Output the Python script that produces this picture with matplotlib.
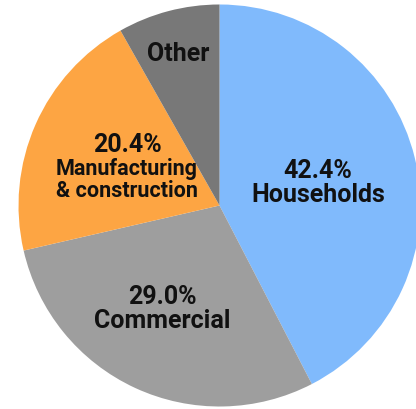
import matplotlib
matplotlib.use("Agg")
import matplotlib.pyplot as plt

# energy use by sector (%)
sectors = ["Households", "Commercial", "Manufacturing\n& construction", "Other"]
shares = [42.4, 29.0, 20.4, 8.2]
colors = ["#80BAFC", "#9E9E9E", "#FDA543", "#787878"]

plt.rcParams["font.family"] = ["Roboto", "DejaVu Sans"]

fig = plt.figure(figsize=(4.16, 4.10), dpi=100)
ax = fig.add_axes([0.0445, 0.0061, 0.9663, 0.9805])

wedges, _ = ax.pie(shares, colors=colors, startangle=90, counterclock=False,
                   radius=1.0, center=(0, 0), wedgeprops={"linewidth": 0})

ax.set_xlim(-1, 1)
ax.set_ylim(-1, 1)
ax.set_aspect("auto")
ax.axis("off")

# label spots inside each wedge (pie radius = 1)
label_pos = [(0.49, 0.115), (-0.286, -0.51), (-0.46, 0.19), (-0.206, 0.76)]

for i, (name, val) in enumerate(zip(sectors, shares)):
    x, y = label_pos[i]
    if name == "Other":
        ax.text(x, y, name, ha="center", va="center", fontsize=18,
                fontweight="bold", color="#111111")
    elif "\n" in name:
        ax.text(x, y + 0.115, f"{val:.1f}%", ha="center", va="center",
                fontsize=18, fontweight="bold", color="#111111")
        ax.text(x, y - 0.06, name, ha="center", va="center", fontsize=15.5,
                fontweight="bold", color="#111111", linespacing=1.0)
    else:
        ax.text(x, y, f"{val:.1f}%\n{name}", ha="center", va="center",
                fontsize=18, fontweight="bold", color="#111111",
                linespacing=1.0)

fig.savefig("out.png", dpi=100)
